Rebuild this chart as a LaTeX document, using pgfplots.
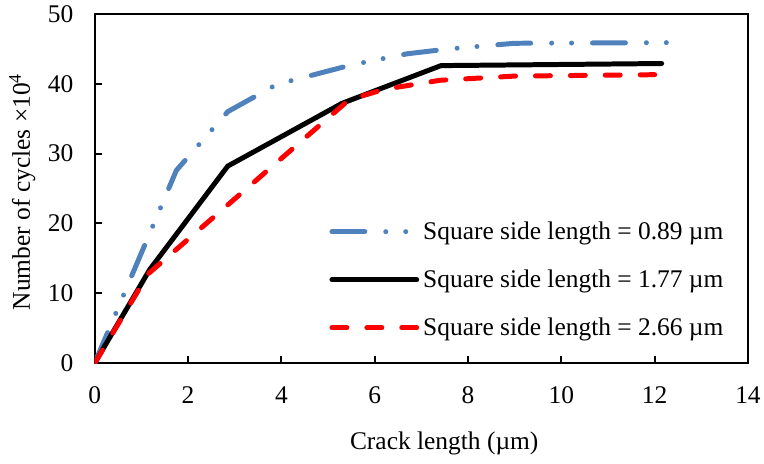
\documentclass[border=0pt]{standalone}
\usepackage{fontspec}
\setmainfont{Liberation Serif}
\usepackage{pgfplots}
\pgfplotsset{compat=1.18}
\definecolor{exblue}{RGB}{79,129,189}
\definecolor{exred}{RGB}{255,0,0}

\begin{document}
\begin{tikzpicture}[font=\fontsize{25.5}{30}\selectfont]
\begin{axis}[
  scale only axis, width=655pt, height=350pt,
  xmin=0, xmax=14, ymin=0, ymax=50,
  xtick={0,2,...,14}, ytick={0,10,...,50},
  xtick pos=bottom, ytick pos=left, tick align=inside,
  major tick length=7pt,
  axis line style={line width=2pt},
  every tick/.style={black, line width=2pt},
  /pgf/number format/assume math mode=true,
  xticklabel style={yshift=-20pt},
  yticklabel style={xshift=-18pt},
  xlabel={Crack length (µm)},
  ylabel={Number of cycles ×10\textsuperscript{4}},
  xlabel style={at={(axis description cs:0.535,-0.231)}, anchor=center},
  ylabel style={at={(axis description cs:-0.111,0.49)}, anchor=center},
  legend style={draw=none, fill=none, at={(axis description cs:0.359,0.41)},
    anchor=north west, row sep=25pt, inner sep=0pt, cells={anchor=west}},
  legend image code/.code={\draw[#1] (0pt,0pt) -- (85pt,0pt); \path (87pt,0pt);},
  every axis plot/.append style={line width=5pt, line join=round},
]
\addplot[color=exblue, line cap=round,
  dash pattern=on 33pt off 21pt on 0pt off 20pt on 0pt off 21pt] coordinates {
  (0,0) (1.75,27.6) (2.85,36.0) (3.9,39.9) (5.5,42.7) (6.7,44.3) (7.6,45.0) (9,45.8) (12.5,45.9)
};
\addlegendentry{Square side length = 0.89 µm}
\addplot[color=black, line cap=round] coordinates {
  (0,0) (1.18,13.4) (2.85,28.2) (5.3,37.2) (7.42,42.6) (12.15,42.9)
};
\addlegendentry{Square side length = 1.77 µm}
\addplot[color=exred, line cap=round, dash pattern=on 15pt off 20pt] coordinates {
  (0,0) (1.15,12.8) (5.45,37.7) (6.2,39.2) (7.4,40.5) (9,41.1) (12,41.3)
};
\addlegendentry{Square side length = 2.66 µm}
\end{axis}
\path (current axis.south west) ++(-95pt,-101pt) rectangle ++(764pt,465pt);
\end{tikzpicture}
\end{document}
